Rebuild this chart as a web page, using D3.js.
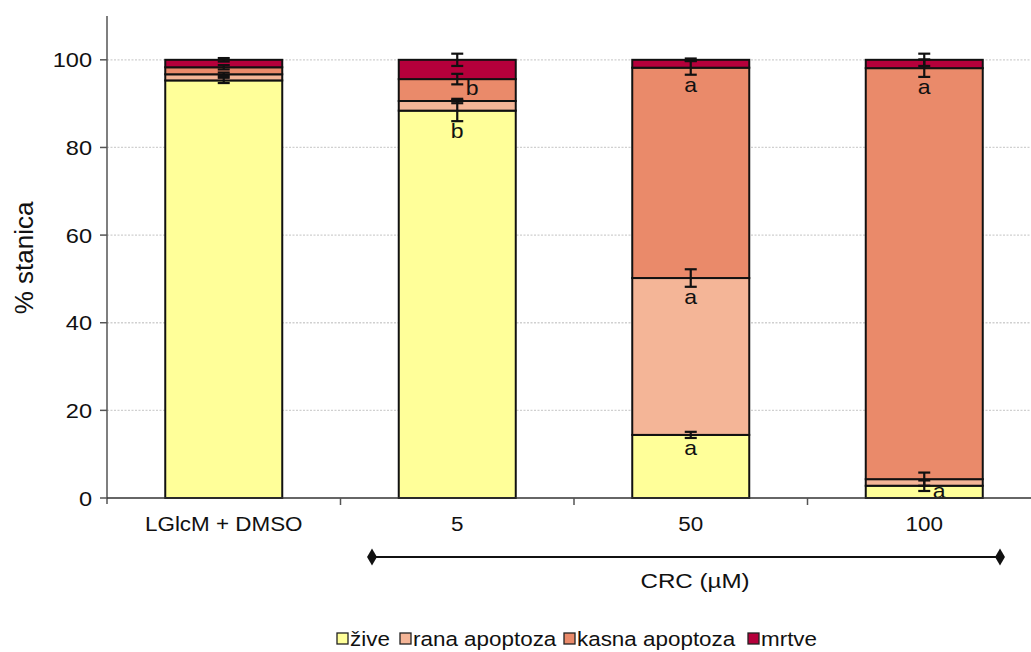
<!DOCTYPE html>
<html>
<head>
<meta charset="utf-8">
<script src="https://cdn.jsdelivr.net/npm/d3@7"></script>
<style>
  body { margin: 0; background: #fff; }
  text { font-family: "Liberation Sans", Arial, sans-serif; fill: #111; }
</style>
</head>
<body>
<div id="chart"></div>
<script>
'use strict';

// categories + series
var categories = ['LGlcM + DMSO', '5', '50', '100'];
var seriesNames = ['žive', 'rana apoptoza', 'kasna apoptoza', 'mrtve'];
var seriesColors = ['#ffff99', '#f4b597', '#ea8a6a', '#b5003b'];

// % stanica per series (one value per category)
var zive  = [95.3, 88.4, 14.4, 2.8];
var rana  = [1.4, 2.2, 35.8, 1.5];
var kasna = [1.6, 5.0, 48.0, 93.8];
var mrtve = [1.7, 4.4, 1.8, 1.9];

// error (+/-) at top of each segment
var ziveErr  = [0.6, 2.4, 0.7, 1.2];
var ranaErr  = [0.4, 0.5, 2.0, 1.5];
var kasnaErr = [0.5, 1.2, 1.6, 2.0];
var mrtveErr = [0.4, 1.4, 0.3, 1.4];

// significance letters
var ziveLetters  = ['', 'b', 'a', 'a'];
var ranaLetters  = ['', '', 'a', ''];
var kasnaLetters = ['', 'b', 'a', 'a'];
var mrtveLetters = ['', '', '', ''];

var yTicks = [0, 20, 40, 60, 80, 100];
var yTitle = '% stanica';
var xTitle = 'CRC (µM)';

var values = [zive, rana, kasna, mrtve];
var errors = [ziveErr, ranaErr, kasnaErr, mrtveErr];
var letters = [ziveLetters, ranaLetters, kasnaLetters, mrtveLetters];

////////////////////////////////////////////////////////////////////////////////////
var W = 1031, H = 652;
var left = 107, bottom = 498;
var SX = 1.15; // text looks horizontally stretched in the original

var svg = d3.select('#chart').append('svg')
  .attr('width', W).attr('height', H);

var x = d3.scaleBand().domain(categories).range([left, left + 4 * 233.5]).padding(0);
var y = d3.scaleLinear().domain([0, 110]).range([bottom, 16]);
var barW = 117;

// stretched text helper
function label(g, tx, ty, str, size, anchor, sx) {
  return g.append('text')
    .attr('transform', 'translate(' + tx + ',' + ty + ') scale(' + (sx || SX) + ',1)')
    .attr('text-anchor', anchor || 'middle')
    .style('font-size', size + 'px')
    .text(str);
}

// gridlines
svg.append('g').selectAll('line').data(yTicks.filter(function (d) { return d > 0; }))
  .join('line')
  .attr('x1', left).attr('x2', W)
  .attr('y1', function (d) { return y(d); }).attr('y2', function (d) { return y(d); })
  .attr('stroke', '#d0d0d0').attr('stroke-width', 1.3).attr('stroke-dasharray', '2,1.5');

// stack
var stacked = categories.map(function (c, i) {
  var acc = 0;
  return values.map(function (s, k) {
    var seg = { cat: c, k: k, y0: acc, y1: acc + s[i], err: errors[k][i], letter: letters[k][i] };
    acc += s[i];
    return seg;
  });
});
var segs = d3.merge(stacked);

var cx = function (d) { return x(d.cat) + x.bandwidth() / 2; };

svg.append('g').selectAll('rect').data(segs).join('rect')
  .attr('x', function (d) { return cx(d) - barW / 2; })
  .attr('width', barW)
  .attr('y', function (d) { return y(d.y1); })
  .attr('height', function (d) { return y(d.y0) - y(d.y1); })
  .attr('fill', function (d) { return seriesColors[d.k]; })
  .attr('stroke', '#111').attr('stroke-width', 2);

// error bars
var eb = svg.append('g').attr('stroke', '#111').attr('stroke-width', 2.2);
segs.forEach(function (d) {
  var c = cx(d), t = y(d.y1 + d.err), b = y(d.y1 - d.err);
  eb.append('line').attr('x1', c).attr('x2', c).attr('y1', t).attr('y2', b);
  eb.append('line').attr('x1', c - 6).attr('x2', c + 6).attr('y1', t).attr('y2', t);
  eb.append('line').attr('x1', c - 6).attr('x2', c + 6).attr('y1', b).attr('y2', b);
});

// letters (some sit to the right where the bar is crowded)
var lg = svg.append('g');
segs.forEach(function (d) {
  if (!d.letter) return;
  var c = cx(d), ty = y(d.y1 - d.err) + 17;
  var crowded = (d.cat === '5' && d.k === 2) || (d.cat === '100' && d.k === 0);
  if (crowded) { c += 15; ty = y(d.y1 - d.err) + (d.k === 0 ? 7 : 11); }
  label(lg, c, ty, d.letter, 20, 'middle');
});

// y axis
var ya = svg.append('g');
ya.append('line').attr('x1', left).attr('x2', left).attr('y1', 16).attr('y2', bottom + 6)
  .attr('stroke', '#555').attr('stroke-width', 1.5);
yTicks.forEach(function (t) {
  ya.append('line').attr('x1', left - 7).attr('x2', left).attr('y1', y(t)).attr('y2', y(t))
    .attr('stroke', '#555').attr('stroke-width', 1.5);
  label(ya, left - 15, y(t) + 7.5, t, 20.5, 'end');
});
svg.append('text')
  .attr('transform', 'translate(33,' + 258 + ') rotate(-90)')
  .attr('text-anchor', 'middle')
  .style('font-size', '26px')
  .text(yTitle);

// x axis
var xa = svg.append('g');
xa.append('line').attr('x1', left).attr('x2', W).attr('y1', bottom).attr('y2', bottom)
  .attr('stroke', '#333').attr('stroke-width', 1.5);
categories.forEach(function (c, i) {
  if (i > 0) xa.append('line').attr('x1', x(c)).attr('x2', x(c)).attr('y1', bottom).attr('y2', bottom + 7)
    .attr('stroke', '#555').attr('stroke-width', 1.5);
  label(xa, x(c) + x.bandwidth() / 2, 531, c, 19.5, 'middle');
});

// CRC bracket
var br = svg.append('g');
var bx0 = 372, bx1 = 1000, by = 557;
br.append('line').attr('x1', bx0).attr('x2', bx1).attr('y1', by).attr('y2', by)
  .attr('stroke', '#111').attr('stroke-width', 2);
[bx0, bx1].forEach(function (px) {
  br.append('path').attr('d', d3.symbol(d3.symbolDiamond, 85)())
    .attr('transform', 'translate(' + px + ',' + by + ')')
    .attr('fill', '#111');
});
label(br, 695, 588, xTitle, 21, 'middle');

// legend
var leg = svg.append('g');
var legX = [337, 400, 564, 748];
seriesNames.forEach(function (n, k) {
  leg.append('rect').attr('x', legX[k]).attr('y', 633).attr('width', 11).attr('height', 11)
    .attr('fill', seriesColors[k]).attr('stroke', '#222').attr('stroke-width', 1.3);
  label(leg, legX[k] + 13, 646, n, 19.5, 'start');
});
</script>
</body>
</html>
